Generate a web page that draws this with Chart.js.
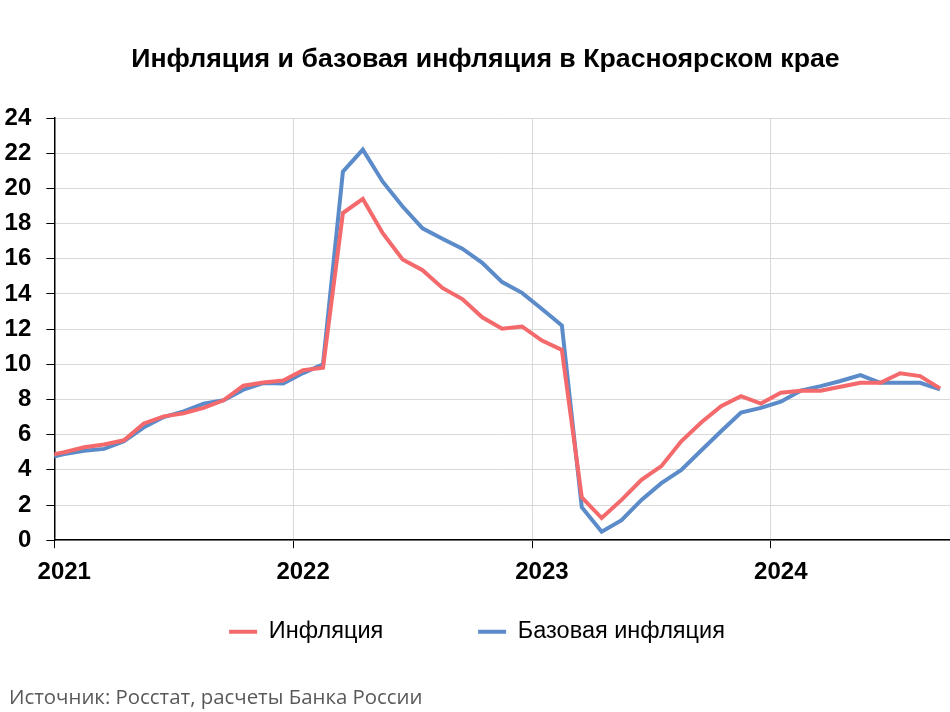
<!DOCTYPE html>
<html lang="ru">
<head>
<meta charset="utf-8">
<title>Инфляция и базовая инфляция в Красноярском крае</title>
<script src="https://cdn.jsdelivr.net/npm/chart.js@4.4.1/dist/chart.umd.min.js"></script>
<style>
    html, body { margin: 0; padding: 0; background: #fff; }
    .wrap { position: relative; width: 950px; height: 712px; }
    .title {
        position: absolute; left: 21px; right: 0; top: 42px;
        text-align: center; white-space: nowrap;
        font: bold 26.7px/32px 'Liberation Sans', Arial, sans-serif; color: #000;
    }
    .source {
        position: absolute; left: 9px; top: 682px;
        font: 20.4px 'Open Sans', sans-serif; color: #595959;
        white-space: nowrap;
    }
</style>
</head>
<body>
<div class="wrap">
    <canvas id="chart" width="950" height="712"></canvas>
    <div class="title">Инфляция и базовая инфляция в Красноярском крае</div>
    <div class="source">Источник: Росстат, расчеты Банка России</div>
</div>
<script>
// месяцы: декабрь 2020 нужен только для отрезка у оси, ось начинается с января 2021
const months = [
    '2020-12',
    '2021-01', '2021-02', '2021-03', '2021-04', '2021-05', '2021-06',
    '2021-07', '2021-08', '2021-09', '2021-10', '2021-11', '2021-12',
    '2022-01', '2022-02', '2022-03', '2022-04', '2022-05', '2022-06',
    '2022-07', '2022-08', '2022-09', '2022-10', '2022-11', '2022-12',
    '2023-01', '2023-02', '2023-03', '2023-04', '2023-05', '2023-06',
    '2023-07', '2023-08', '2023-09', '2023-10', '2023-11', '2023-12',
    '2024-01', '2024-02', '2024-03', '2024-04', '2024-05', '2024-06',
    '2024-07', '2024-08', '2024-09'
];

// инфляция, % г/г
const inflation = [
    4.78,
    5.0, 5.28, 5.44, 5.68, 6.64, 7.04, 7.22, 7.52, 7.95, 8.78, 8.96, 9.08,
    9.66, 9.8, 18.6, 19.4, 17.45, 15.96, 15.35, 14.34, 13.71, 12.67, 12.02, 12.15,
    11.35, 10.82, 2.44, 1.26, 2.29, 3.43, 4.21, 5.62, 6.69, 7.62, 8.19, 7.77,
    8.38, 8.5, 8.5, 8.72, 8.95, 8.95, 9.49, 9.33, 8.63
];

// базовая инфляция, % г/г
const coreInflation = [
    4.62,
    4.9, 5.08, 5.19, 5.62, 6.42, 7.0, 7.32, 7.76, 7.95, 8.56, 8.93, 8.91,
    9.5, 10.0, 20.95, 22.2, 20.38, 18.97, 17.73, 17.14, 16.57, 15.77, 14.67, 14.06,
    13.14, 12.21, 1.87, 0.48, 1.14, 2.29, 3.24, 4.0, 5.1, 6.19, 7.26, 7.52,
    7.87, 8.5, 8.76, 9.05, 9.39, 8.95, 8.95, 8.95, 8.57
];

const yTicks = { min: 0, max: 24, step: 2 };

const red = '#f4696b';
const blue = '#5b8bc9';
const gridGray = '#d9d9d9';

const isYearTick = c => c.tick && c.tick.label !== '';

new Chart(document.getElementById('chart'), {
    type: 'line',
    data: {
        labels: months,
        datasets: [{
            label: 'Инфляция',
            data: inflation,
            borderColor: red,
            backgroundColor: red,
            borderWidth: 4,
            pointRadius: 0,
            tension: 0,
            clip: { left: 0, top: 6, right: 6, bottom: 6 }
        }, {
            label: 'Базовая инфляция',
            data: coreInflation,
            borderColor: blue,
            backgroundColor: blue,
            borderWidth: 4,
            pointRadius: 0,
            tension: 0,
            clip: { left: 0, top: 6, right: 6, bottom: 6 }
        }]
    },
    options: {
        responsive: false,
        animation: false,
        layout: { padding: { left: 4, right: 0, top: 118, bottom: 58.5 } },
        scales: {
            x: {
                type: 'category',
                min: '2021-01',
                offset: true,
                afterFit: s => { s.paddingLeft = 0; s.paddingRight = 0; },
                border: { color: '#000', width: 1.5 },
                grid: {
                    offset: true,
                    tickLength: 8,
                    color: c => isYearTick(c) ? gridGray : 'transparent',
                    tickColor: c => isYearTick(c) ? '#000' : 'transparent'
                },
                ticks: {
                    autoSkip: false,
                    maxRotation: 0,
                    padding: 10,
                    color: '#000',
                    font: { family: 'Liberation Sans', size: 24, weight: 'bold' },
                    callback: function (value) {
                        const l = this.getLabelForValue(value);
                        return l.endsWith('-01') ? l.slice(0, 4) : '';
                    }
                }
            },
            y: {
                min: yTicks.min,
                max: yTicks.max,
                afterFit: s => { s.width = 50.3; },
                border: { color: '#000', width: 1.5 },
                grid: { color: gridGray, tickColor: '#000', tickLength: 8 },
                ticks: {
                    stepSize: yTicks.step,
                    padding: 15,
                    color: '#000',
                    font: { family: 'Liberation Sans', size: 24, weight: 'bold' }
                }
            }
        },
        plugins: {
            title: { display: false },
            legend: {
                position: 'bottom',
                labels: {
                    color: '#000',
                    font: { family: 'Liberation Sans', size: 23.5 },
                    usePointStyle: true,
                    pointStyle: 'line',
                    pointStyleWidth: 28,
                    padding: 23,
                    generateLabels: chart => {
                        const items = Chart.defaults.plugins.legend.labels.generateLabels(chart);
                        items.forEach(it => { it.lineWidth = 4; });
                        items[0].text += '\u00a0'.repeat(11);
                        return items;
                    }
                }
            },
            tooltip: { enabled: false }
        }
    }
});
</script>
</body>
</html>
